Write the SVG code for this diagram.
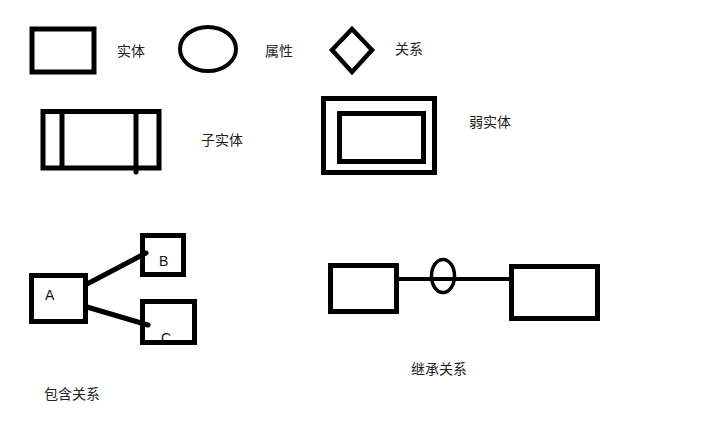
<svg xmlns="http://www.w3.org/2000/svg" width="724" height="431" viewBox="0 0 724 431">
<style>
.s{fill:none;stroke:#000;stroke-width:5}
.t{font-family:"Liberation Sans","Noto Sans CJK SC",sans-serif;font-size:14px;fill:#222}
.l{font-family:"Liberation Sans",sans-serif;font-size:14px;fill:#111}
.c{stroke:#000;stroke-width:5;stroke-linecap:round;fill:none}
</style>
<rect width="724" height="431" fill="#fff"/>
<g id="legend-entity"><rect class="s" x="32" y="29" width="62" height="43"/><text class="t" x="117" y="56">实体</text></g>
<g id="legend-attr"><ellipse class="s" cx="208" cy="49" rx="28" ry="22" style="stroke-width:4"/><text class="t" x="265" y="56">属性</text></g>
<g id="legend-rel"><polygon class="s" points="352,29 372,50 352,72 332,50" style="stroke-width:4.5"/><text class="t" x="395" y="54">关系</text></g>
<g id="subentity"><rect class="s" x="43" y="111.5" width="116" height="56.5"/><line class="s" x1="62" y1="111" x2="62" y2="168"/><line class="c" x1="136" y1="112" x2="136" y2="172"/><text class="t" x="201" y="145">子实体</text></g>
<g id="weakentity"><rect class="s" x="323.5" y="98.5" width="111" height="74"/><rect class="s" x="339.5" y="113.5" width="84" height="48"/><text class="t" x="469" y="127">弱实体</text></g>
<g id="connectors">
<line class="c" x1="87" y1="284" x2="146" y2="253"/>
<line class="c" x1="87" y1="307" x2="148" y2="325"/>
<line x1="399" y1="279" x2="509" y2="279" stroke="#000" stroke-width="4"/>
</g>
<g id="A"><rect class="s" x="31.5" y="275.5" width="54" height="46"/><text class="l" x="45" y="300">A</text></g>
<g id="B"><rect class="s" x="142.5" y="235.5" width="41" height="39"/><text class="l" x="159" y="266">B</text></g>
<g id="C"><text class="l" x="161" y="343">C</text><rect class="s" x="142.5" y="301.5" width="52" height="41"/></g>
<g id="inh-left"><rect class="s" x="330.5" y="265.5" width="66" height="46"/></g>
<g id="inh-attr"><ellipse cx="443" cy="276" rx="11.5" ry="16.5" fill="none" stroke="#000" stroke-width="3.5"/></g>
<g id="inh-right"><rect class="s" x="511.5" y="266.5" width="86" height="52"/></g>
<text class="t" x="44" y="399">包含关系</text>
<text class="t" x="411" y="374">继承关系</text>
</svg>
